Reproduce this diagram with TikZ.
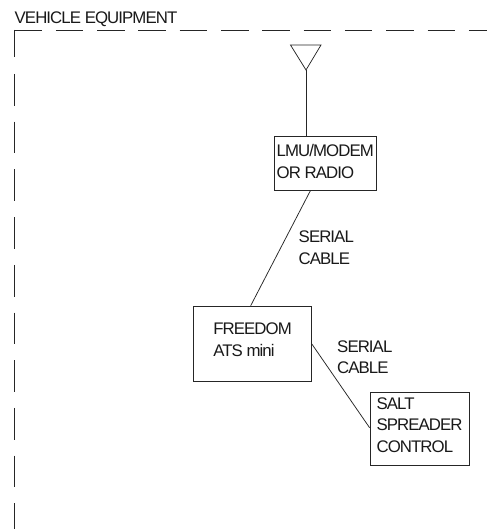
\documentclass[tikz,border=0pt]{standalone}
\usepackage{fontspec}
\setmainfont[LetterSpace=-5.5]{Liberation Sans}
\usetikzlibrary{calc}
\newcommand{\liftbox}[1]{\rule[-#1]{0pt}{#1}}
\tikzset{
  wire/.style={line width=0.75bp,draw=black!85},
  boxnode/.style={draw=black!85,line width=0.75bp,align=left,inner sep=0pt,font=\fontsize{16.8bp}{21.5bp}\selectfont,text=black!90},
  lbl/.style={align=left,inner sep=0pt,font=\fontsize{16.8bp}{21.5bp}\selectfont,text=black!90,anchor=west},
  bound/.style={line width=0.85bp,draw=black!85}
}
\begin{document}
\begin{tikzpicture}[x=1bp,y=-1bp]
\useasboundingbox (0,0) rectangle (487,529);
\fill[white] (0,0) rectangle (487,529);
% boundary
\coordinate (corner) at (14.5,30);
\coordinate (tr) at (487,30);
\coordinate (v1) at (14.5,57.5);
\coordinate (v2) at (14.5,74);
\coordinate (bl) at (14.5,529);
\draw[bound,dash pattern=on 27.5bp off 13.8bp] (corner) -- (tr);
\draw[bound] (corner) -- (v1);
\draw[bound,dash pattern=on 31.7bp off 16bp] (v2) -- (bl);
\node[lbl] (title) at (14.5,19.5) {VEHICLE EQUIPMENT};
% boxes
\node[boxnode,minimum width=102.5bp,minimum height=54bp] (lmu) at (325.25,163.5) {LMU/MODEM\\OR RADIO\liftbox{4bp}};
\node[boxnode,minimum width=118bp,minimum height=75bp] (ats) at (252.5,343.5) {FREEDOM\\ATS mini\liftbox{8bp}};
\node[boxnode,minimum width=99bp,minimum height=73bp] (salt) at (419.5,428.5) {SALT\\SPREADER\\CONTROL\liftbox{7bp}};
% antenna
\coordinate (a1) at (290.5,45);
\coordinate (a2) at (321,45);
\coordinate (a3) at (306,70);
\draw[wire,line join=miter] (a1) -- (a2) -- (a3) -- cycle;
\draw[wire] (a3) -- (a3 |- lmu.north);
% connectors
\draw[wire] ($(lmu.south west)!0.355!(lmu.south east)$) -- ($(ats.north west)!0.485!(ats.north east)$);
\draw[wire] ($(ats.north east)!0.507!(ats.south east)$) -- ($(salt.north west)!0.49!(salt.south west)$);
% labels
\node[lbl] (l1) at (298.5,247.5) {SERIAL\\CABLE};
\node[lbl] (l2) at (337,357) {SERIAL\\CABLE};
\end{tikzpicture}
\end{document}
